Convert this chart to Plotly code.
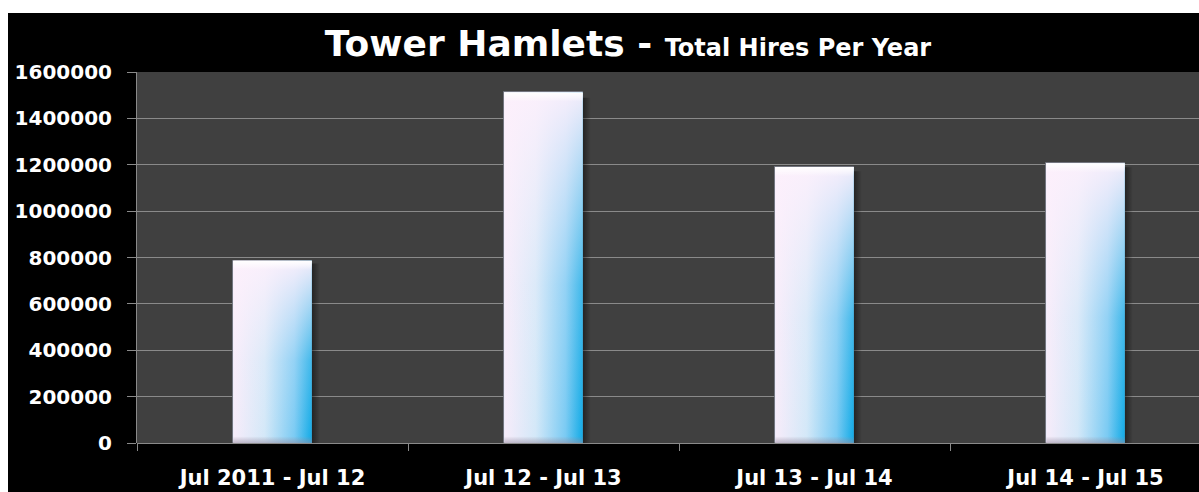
import plotly.graph_objects as go

categories = ["Jul 2011 - Jul 12", "Jul 12 - Jul 13", "Jul 13 - Jul 14", "Jul 14 - Jul 15"]
hires = [786000, 1512000, 1190000, 1207000]
y_ticks = [0, 200000, 400000, 600000, 800000, 1000000, 1200000, 1400000, 1600000]

W, H = 1199, 492
L, R, T, B = 137, 0, 72, 49
PW, PH = W - L - R, H - T - B
bar_w = 0.29
x_range = [-0.5, -0.5 + PW / 271.0]

FONT = "DejaVu Sans"

fig = go.Figure()

# bar shadows
for i, v in enumerate(hires):
    x1 = i + bar_w / 2
    dx = 0.03
    fig.add_trace(go.Scatter(
        x=[x1, x1 + dx, x1 + dx, x1, x1], y=[v * 0.985, v * 0.985, 0, 0, v * 0.985],
        mode="none", fill="toself", hoverinfo="skip", showlegend=False,
        fillgradient=dict(type="horizontal", start=x1, stop=x1 + dx,
                          colorscale=[[0, "rgba(0,0,0,0.45)"], [1, "rgba(0,0,0,0)"]])))

# base bars
fig.add_trace(go.Bar(
    x=list(range(len(categories))), y=hires, width=bar_w,
    marker=dict(color="#c9e6f8", line=dict(color="rgba(110,110,120,0.8)", width=1)),
    showlegend=False, hoverinfo="skip"))

# gradient overlays
for i, v in enumerate(hires):
    x0, x1 = i - bar_w / 2, i + bar_w / 2
    xs = [x0, x1, x1, x0, x0]
    ys = [0, 0, v, v, 0]
    fig.add_trace(go.Scatter(
        x=xs, y=ys, mode="none", fill="toself", hoverinfo="skip", showlegend=False,
        fillgradient=dict(type="horizontal", start=x0, stop=x1,
                          colorscale=[[0, "#f7ecfa"], [0.4, "#d3e8f8"], [0.78, "#79caf3"], [1, "#10aae6"]])))
    fig.add_trace(go.Scatter(
        x=xs, y=ys, mode="none", fill="toself", hoverinfo="skip", showlegend=False,
        fillgradient=dict(type="vertical", start=0, stop=v,
                          colorscale=[[0, "rgba(255,245,252,0)"], [0.45, "rgba(255,242,252,0.2)"],
                                      [1, "rgba(253,240,252,0.95)"]])))
    # top bevel highlight
    hb = v - 1600000 * 0.025
    fig.add_trace(go.Scatter(
        x=[x0, x1, x1, x0, x0], y=[hb, hb, v, v, hb], mode="none", fill="toself",
        hoverinfo="skip", showlegend=False,
        fillgradient=dict(type="vertical", start=hb, stop=v,
                          colorscale=[[0, "rgba(255,255,255,0)"], [1, "rgba(255,255,255,1)"]])))
    # bottom bevel
    bb = 1600000 * 0.018
    fig.add_trace(go.Scatter(
        x=[x0, x1, x1, x0, x0], y=[0, 0, bb, bb, 0], mode="none", fill="toself",
        hoverinfo="skip", showlegend=False,
        fillgradient=dict(type="vertical", start=0, stop=bb,
                          colorscale=[[0, "rgba(150,140,160,0.55)"], [1, "rgba(150,140,160,0)"]])))

grid = "#8a8a8a"


def px_x(px):
    return (px - L) / PW


def px_y(py):
    return (H - B - py) / PH


fig.update_layout(
    width=W, height=H,
    margin=dict(l=L, r=R, t=T, b=B, autoexpand=False),
    paper_bgcolor="black",
    plot_bgcolor="#404040",
    bargap=0,
    title=dict(
        text="<b>Tower Hamlets - <span style='font-size:24px'>Total Hires Per Year</span></b>",
        x=px_x(628), xref="paper", xanchor="center",
        y=1 - 43 / H, yanchor="middle",
        font=dict(family=FONT, size=36, color="white")),
    xaxis=dict(
        range=x_range, automargin=False,
        tickmode="array", tickvals=list(range(len(categories))),
        ticktext=categories, ticks="", showgrid=False, zeroline=False,
        showline=False,
        tickfont=dict(family=FONT, size=21, color="white", weight="bold"),
        ticklabelstandoff=20,
        minor=dict(tickmode="array", tickvals=[-0.5, 0.5, 1.5, 2.5, 3.5], ticks="outside",
                   ticklen=7, tickcolor=grid, tickwidth=1, showgrid=False)),
    yaxis=dict(
        range=[0, 1600000], automargin=False,
        tickmode="array", tickvals=y_ticks,
        ticktext=[str(t) for t in y_ticks],
        showgrid=True, gridcolor=grid, gridwidth=1,
        zeroline=True, zerolinecolor=grid, zerolinewidth=1,
        showline=True, linecolor=grid, linewidth=1,
        ticks="outside", ticklen=9, tickcolor=grid,
        tickfont=dict(family=FONT, size=20, color="white", weight="bold"),
        ticklabelstandoff=11),
    shapes=[
        dict(type="rect", xref="paper", yref="paper", layer="below",
             x0=px_x(0), x1=1, y0=px_y(13), y1=px_y(0),
             fillcolor="white", line=dict(width=0)),
        dict(type="rect", xref="paper", yref="paper", layer="below",
             x0=px_x(0), x1=px_x(8), y0=px_y(H), y1=px_y(0),
             fillcolor="white", line=dict(width=0)),
    ],
)

fig.write_html(
    "out.html",
    config={"displayModeBar": False},
    post_script="document.body.style.margin='0';document.body.style.overflow='hidden';",
)
